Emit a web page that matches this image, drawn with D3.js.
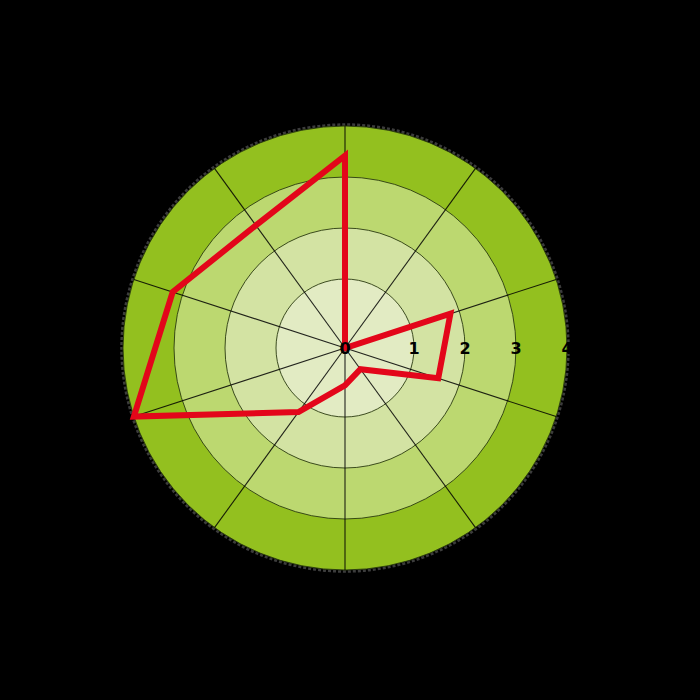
<!DOCTYPE html>
<html>
<head>
<meta charset="utf-8">
<script src="https://cdn.jsdelivr.net/npm/d3@7"></script>
<style>
  html, body { margin: 0; padding: 0; background: #000; }
  svg { display: block; }
</style>
</head>
<body>
<svg id="chart" width="700" height="700"></svg>
<script>
// ---- data ----
const axes = [0, 1, 2, 3, 4, 5, 6, 7, 8, 9];               // 10 spokes, clockwise from top
const values = [3.42, 0, 1.82, 1.57, 0.38, 0.54, 1.2, 4.0, 3.2, 2.62];
const tickValues = [0, 1, 2, 3, 4];
const tickLabels = ["0", "1", "2", "3", "4"];
const ringColors = ["#e2ebc3", "#d3e3a3", "#bcd870", "#93c01f"]; // inner -> outer

// ---- layout ----
const cx = 345, cy = 348;
const svg = d3.select("#chart");
const g = svg.append("g").attr("transform", `translate(${cx},${cy})`);

const r = d3.scaleLinear().domain(tickValues).range([0, 69, 120, 171, 222]);
const angle = d3.scaleLinear().domain([0, axes.length]).range([0, 2 * Math.PI]);

// outer soft edge
g.append("circle").attr("r", r(4) + 1.5).attr("fill", "none")
  .attr("stroke", "#555").attr("stroke-opacity", 0.7)
  .attr("stroke-width", 2.5).attr("stroke-dasharray", "3 2");

// rings, from outside in
const ringTicks = tickValues.slice(1).reverse();
g.selectAll("circle.ring").data(ringTicks).join("circle")
  .attr("class", "ring")
  .attr("r", d => r(d))
  .attr("fill", (d, i) => ringColors[ringColors.length - 1 - i])
  .attr("stroke", "#2a3a10").attr("stroke-width", 0.9);

// spokes
g.selectAll("line.spoke").data(axes).join("line")
  .attr("class", "spoke")
  .attr("x1", 0).attr("y1", 0)
  .attr("x2", d => r(4) * Math.sin(angle(d)))
  .attr("y2", d => -r(4) * Math.cos(angle(d)))
  .attr("stroke", "#000").attr("stroke-opacity", 0.85).attr("stroke-width", 1.1);

// data polygon
const line = d3.lineRadial()
  .angle((d, i) => angle(i))
  .radius(d => r(d))
  .curve(d3.curveLinearClosed);

g.append("path").datum(values)
  .attr("d", line)
  .attr("fill", "none")
  .attr("stroke", "#e3061a")
  .attr("stroke-width", 6)
  .attr("stroke-linejoin", "miter");

// tick labels along the horizontal radius
g.selectAll("text.tick").data(tickValues).join("text")
  .attr("class", "tick")
  .attr("x", d => r(d))
  .attr("y", 0)
  .attr("text-anchor", "middle")
  .attr("dominant-baseline", "central")
  .attr("font-family", "DejaVu Sans, sans-serif")
  .attr("font-size", 16)
  .attr("font-weight", "bold")
  .attr("fill", "#000")
  .text((d, i) => tickLabels[i]);
</script>
</body>
</html>
